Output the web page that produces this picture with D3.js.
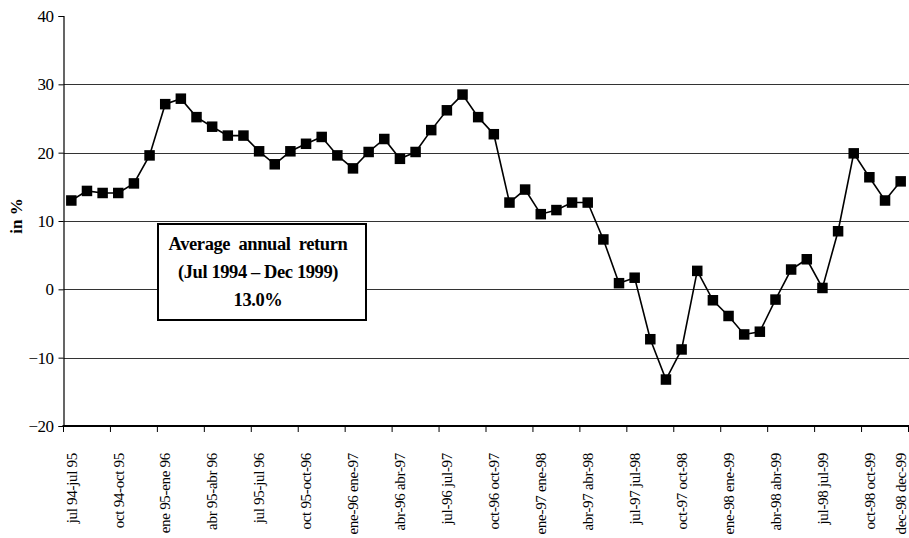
<!DOCTYPE html>
<html>
<head>
<meta charset="utf-8">
<script src="https://cdn.jsdelivr.net/npm/d3@7"></script>
<style>
  html, body { margin: 0; padding: 0; background: #fff; }
  svg { display: block; }
  svg text { font-family: "Times New Roman", "Liberation Serif", "DejaVu Serif", serif !important; fill: #000; }
</style>
</head>
<body>
<svg id="chart" width="909" height="538"></svg>
<script>
// Rolling 12-month returns, in %
const returns = [
  13.0, 14.4, 14.1, 14.1, 15.5, 19.6, 27.1, 27.9, 25.2, 23.8,
  22.5, 22.5, 20.2, 18.3, 20.2, 21.3, 22.3, 19.6, 17.7, 20.1,
  22.0, 19.1, 20.1, 23.3, 26.2, 28.5, 25.2, 22.7, 12.7, 14.6,
  11.0, 11.6, 12.7, 12.7, 7.3, 0.9, 1.7, -7.3, -13.2, -8.8,
  2.7, -1.6, -3.9, -6.6, -6.2, -1.5, 2.9, 4.4, 0.2, 8.5,
  19.9, 16.4, 13.0, 15.8
];

// Period labels and the positions (month index) where they are shown
const periodLabels = [
  "jul 94-jul 95", "oct 94-oct 95", "ene 95-ene 96", "abr 95-abr 96",
  "jul 95-jul 96", "oct 95-oct-96", "ene-96 ene-97", "abr-96 abr-97",
  "jul-96 jul-97", "oct-96 oct-97", "ene-97 ene-98", "abr-97 abr-98",
  "jul-97 jul-98", "oct-97 oct-98", "ene-98 ene-99", "abr-98 abr-99",
  "jul-98 jul-99", "oct-98 oct-99", "dec-98 dec-99"
];
const labelPositions = [0, 3, 6, 9, 12, 15, 18, 21, 24, 27, 30, 33, 36, 39, 42, 45, 48, 51, 53];

const yTicks = [-20, -10, 0, 10, 20, 30, 40];
const gridValues = [-10, 0, 10, 20, 30];

const noteLines = ["Average annual return", "(Jul 1994 \u2013 Dec 1999)", "13.0%"];

const svg = d3.select("#chart");
const plotLeft = 63.5, plotRight = 908.5, plotTop = 16, plotBottom = 426;

const x = d3.scaleBand()
  .domain(d3.range(returns.length))
  .range([plotLeft, plotRight])
  .paddingInner(0).paddingOuter(0);
const y = d3.scaleLinear().domain([-20, 40]).range([plotBottom, plotTop]);
const cx = i => x(i) + x.bandwidth() / 2;

// horizontal gridlines
svg.append("g").selectAll("line").data(gridValues).join("line")
  .attr("x1", plotLeft).attr("x2", plotRight + 1)
  .attr("y1", d => Math.round(y(d)) + 0.5).attr("y2", d => Math.round(y(d)) + 0.5)
  .attr("stroke", "#333").attr("stroke-width", 1);

// y axis
const yAxis = d3.axisLeft(y).tickValues(yTicks).tickSize(5).tickPadding(5).tickFormat(d3.format("d"));
const gy = svg.append("g").attr("transform", `translate(${plotLeft},0)`).call(yAxis);
gy.attr("font-family", null);
gy.select(".domain").attr("stroke", "#000").attr("stroke-width", 1.2);
gy.selectAll(".tick line").attr("stroke", "#000");
gy.selectAll(".tick text")
  .style("font-size", "17px").attr("fill", "#000").attr("letter-spacing", "-0.5");

// x axis line and tick marks at group boundaries
const boundaries = d3.range(0, returns.length + 1, 3);
svg.append("line")
  .attr("x1", plotLeft - 1).attr("x2", plotRight + 1)
  .attr("y1", plotBottom).attr("y2", plotBottom)
  .attr("stroke", "#000").attr("stroke-width", 2);
svg.append("g").selectAll("line").data(boundaries).join("line")
  .attr("x1", d => (d < returns.length ? x(d) : plotRight))
  .attr("x2", d => (d < returns.length ? x(d) : plotRight))
  .attr("y1", plotBottom).attr("y2", plotBottom + 6)
  .attr("stroke", "#000").attr("stroke-width", 1);

// rotated period labels
svg.append("g").selectAll("text").data(periodLabels).join("text")
  .attr("transform", (d, i) => `translate(${cx(labelPositions[i])},453) rotate(-90)`)
  .attr("text-anchor", "end")
  .attr("dy", "0.35em")
  .attr("font-size", "15px")
  .attr("letter-spacing", "-0.3")
  .text(d => d);

// y axis title
svg.append("text")
  .attr("transform", `translate(16,${(plotTop + plotBottom) / 2 - 5}) rotate(-90)`)
  .attr("text-anchor", "middle")
  .attr("dy", "0.35em")
  .attr("font-size", "17px")
  .attr("font-weight", "bold")
  .text("in %");

// return line and square markers
const line = d3.line().x((d, i) => cx(i)).y(d => y(d));
svg.append("path").datum(returns)
  .attr("d", line)
  .attr("fill", "none").attr("stroke", "#000").attr("stroke-width", 1.6);

const ms = 10.5;
svg.append("g").selectAll("rect").data(returns).join("rect")
  .attr("x", (d, i) => cx(i) - ms / 2)
  .attr("y", d => y(d) - ms / 2)
  .attr("width", ms).attr("height", ms)
  .attr("fill", "#000");

// average return note
const note = svg.append("g");
note.append("rect")
  .attr("x", 158).attr("y", 224).attr("width", 208).attr("height", 96)
  .attr("fill", "#fff").attr("stroke", "#000").attr("stroke-width", 2);
note.selectAll("text").data(noteLines).join("text")
  .attr("x", 258)
  .attr("y", (d, i) => 250 + i * 28)
  .attr("text-anchor", "middle")
  .attr("font-size", "18.5px")
  .attr("font-weight", "bold")
  .attr("letter-spacing", "-0.4")
  .attr("word-spacing", (d, i) => (i === 0 ? "4" : "0"))
  .text(d => d);
</script>
</body>
</html>
